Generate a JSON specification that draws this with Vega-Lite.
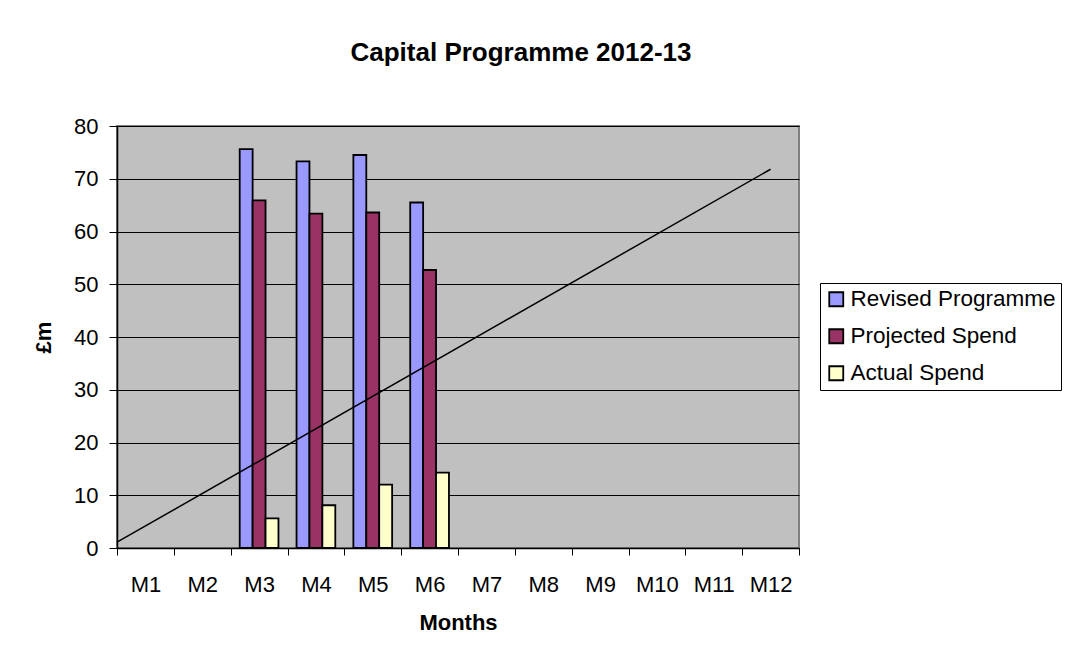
{
  "$schema": "https://vega.github.io/schema/vega-lite/v6.json",
  "width": 682,
  "height": 422,
  "autosize": {"type": "none"},
  "padding": {"left": 117, "top": 126, "right": 269, "bottom": 108},
  "background": "white",
  "title": {
    "text": "Capital Programme 2012-13",
    "font": "Liberation Sans",
    "fontSize": 26,
    "fontWeight": "bold",
    "color": "black",
    "anchor": "middle",
    "frame": "group",
    "dx": 63,
    "offset": 49
  },
  "config": {
    "font": "Liberation Sans",
    "view": {"fill": "#C0C0C0", "stroke": "#808080", "strokeWidth": 2}
  },
  "datasets": {
    "bars": [
      {"month": "M3", "series": "Revised Programme", "value": 75.6},
      {"month": "M3", "series": "Projected Spend", "value": 65.9},
      {"month": "M3", "series": "Actual Spend", "value": 5.6},
      {"month": "M4", "series": "Revised Programme", "value": 73.3},
      {"month": "M4", "series": "Projected Spend", "value": 63.4},
      {"month": "M4", "series": "Actual Spend", "value": 8.1},
      {"month": "M5", "series": "Revised Programme", "value": 74.5},
      {"month": "M5", "series": "Projected Spend", "value": 63.6},
      {"month": "M5", "series": "Actual Spend", "value": 12.0},
      {"month": "M6", "series": "Revised Programme", "value": 65.5},
      {"month": "M6", "series": "Projected Spend", "value": 52.7},
      {"month": "M6", "series": "Actual Spend", "value": 14.3}
    ],
    "trend": [
      {"t": 0, "v": 1.1},
      {"t": 11.5, "v": 71.8}
    ]
  },
  "layer": [
    {
      "data": {"name": "bars"},
      "mark": {"type": "bar", "stroke": "black", "strokeWidth": 1.8},
      "encoding": {
        "x": {
          "field": "month",
          "type": "nominal",
          "scale": {
            "domain": ["M1","M2","M3","M4","M5","M6","M7","M8","M9","M10","M11","M12"],
            "paddingInner": 0,
            "paddingOuter": 0
          },
          "axis": {
            "title": "Months",
            "titleFontSize": 22,
            "titleFontWeight": "bold",
            "titleColor": "black",
            "titlePadding": 17,
            "labelFontSize": 22,
            "labelColor": "black",
            "labelAngle": 0,
            "labelPadding": 19,
            "tickBand": "extent",
            "tickSize": 7,
            "tickColor": "black",
            "domainColor": "black",
            "domainWidth": 1.5,
            "grid": false
          }
        },
        "xOffset": {
          "field": "series",
          "type": "nominal",
          "sort": ["Revised Programme", "Projected Spend", "Actual Spend"],
          "scale": {"paddingInner": 0, "paddingOuter": 0.7}
        },
        "y": {
          "field": "value",
          "type": "quantitative",
          "scale": {"domain": [0, 80], "nice": false},
          "axis": {
            "title": "£m",
            "titleFontSize": 22,
            "titleFontWeight": "bold",
            "titleColor": "black",
            "titlePadding": 18,
            "labelFontSize": 22,
            "labelColor": "black",
            "labelPadding": 11,
            "values": [0, 10, 20, 30, 40, 50, 60, 70, 80],
            "tickSize": 8,
            "tickColor": "black",
            "domainColor": "black",
            "domainWidth": 1.5,
            "grid": true,
            "gridColor": "black",
            "gridWidth": 1
          }
        },
        "color": {
          "field": "series",
          "type": "nominal",
          "sort": ["Revised Programme", "Projected Spend", "Actual Spend"],
          "scale": {
            "domain": ["Revised Programme", "Projected Spend", "Actual Spend"],
            "range": ["#9999FF", "#993366", "#FFFFCC"]
          },
          "legend": {
            "title": null,
            "orient": "none",
            "legendX": 703,
            "legendY": 157,
            "strokeColor": "black",
            "fillColor": "white",
            "padding": 5,
            "labelFontSize": 22.5,
            "labelColor": "black",
            "labelOffset": 3,
            "labelLimit": 400,
            "symbolType": "square",
            "symbolSize": 196,
            "symbolStrokeColor": "black",
            "symbolStrokeWidth": 1.8,
            "symbolOpacity": 1,
            "rowPadding": 14
          }
        }
      }
    },
    {
      "data": {"name": "trend"},
      "mark": {"type": "line", "color": "black", "strokeWidth": 1.5},
      "encoding": {
        "x": {"field": "t", "type": "quantitative", "scale": {"domain": [0, 12], "nice": false}, "axis": null},
        "y": {"field": "v", "type": "quantitative"}
      }
    }
  ],
  "resolve": {"scale": {"x": "independent"}}
}
